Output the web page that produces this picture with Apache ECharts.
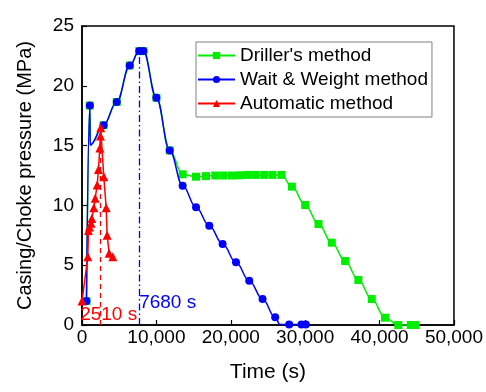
<!DOCTYPE html>
<html>
<head>
<meta charset="utf-8">
<script src="https://cdn.jsdelivr.net/npm/echarts@6/dist/echarts.min.js"></script>
<style>
  html, body { margin: 0; padding: 0; background: #fff; }
  #chart { width: 486px; height: 392px; }
</style>
</head>
<body>
<div id="chart"></div>
<script>
const FONT = "'Liberation Sans', Arial, sans-serif";

// [time (s), pressure (MPa)]
const drillerData = [
  [600, 2.0], [1050, 18.35], [1100, 15.05], [2900, 16.7], [4670, 18.65], [6420, 21.7],
  [7700, 22.9], [8250, 22.9], [10000, 19.0], [11790, 14.6],
  [13530, 12.6], [15330, 12.4], [16670, 12.45], [17920, 12.5], [19000, 12.5], [20160, 12.5],
  [21230, 12.52], [22300, 12.55], [23380, 12.55], [24500, 12.55], [25600, 12.55], [26800, 12.55],
  [28210, 11.57], [30000, 10.03], [31790, 8.44], [33580, 6.88], [35370, 5.35], [37150, 3.76],
  [38950, 2.17], [40740, 0.61], [42520, 0], [44190, 0], [44860, 0]
];
const waitWeightData = [
  [600, 2.0], [1050, 18.35], [1100, 15.05], [2900, 16.7], [4670, 18.65], [6420, 21.7],
  [7700, 22.9], [8250, 22.9], [10000, 19.0], [11790, 14.6], [13530, 11.65], [15330, 9.85],
  [17110, 8.3], [18900, 6.77], [20700, 5.24], [22480, 3.7], [24270, 2.17], [25970, 0.64],
  [26600, 0.05], [27850, 0.05], [29500, 0.05], [30090, 0.05]
];
const automaticData = [
  [0, 2.0], [780, 5.7], [870, 7.9], [1010, 8.2], [1230, 8.5], [1320, 8.9], [1590, 9.8],
  [1770, 10.6], [2040, 11.7], [2210, 13.0], [2400, 14.8], [2480, 15.8], [2510, 16.5],
  [2930, 12.4], [3250, 9.8], [3380, 7.5], [3650, 6.0], [4140, 5.7]
];
// points drawn without a marker (line bends only)
const hiddenMarkerTimes = [1100, 26600];

// vertical reference lines: [time, top pressure]
const autoPeak = [2510, 16.5];
const wwPeak = [7680, 22.9];

const xTicks = [0, 10000, 20000, 30000, 40000, 50000];

function withMarkers(data) {
  return data.map((p) => hiddenMarkerTimes.includes(p[0]) ? { value: p, symbol: 'none' } : p);
}

const chart = echarts.init(document.getElementById('chart'));

const option = {
  animation: false,
  backgroundColor: '#fff',
  textStyle: { fontFamily: FONT },
  grid: {
    left: 82, right: 31, top: 26, bottom: 67,
    show: true, borderColor: '#000', borderWidth: 1.5
  },
  legend: {
    orient: 'vertical',
    left: 196, top: 42,
    padding: [4, 4, 4, 1],
    itemWidth: 37, itemHeight: 9, itemGap: 5,
    borderColor: '#808080', borderWidth: 1,
    backgroundColor: '#fff',
    textStyle: { fontSize: 19, lineHeight: 19, color: '#000', fontFamily: FONT },
    data: ["Driller's method", 'Wait & Weight method', 'Automatic method']
  },
  xAxis: {
    type: 'value',
    min: xTicks[0], max: xTicks[xTicks.length - 1], interval: 10000,
    name: 'Time (s)',
    nameLocation: 'middle', nameGap: 37,
    nameTextStyle: { fontSize: 21, color: '#000', fontFamily: FONT },
    axisLine: { lineStyle: { color: '#000', width: 1.5 } },
    axisTick: { inside: true, length: 5, lineStyle: { color: '#000', width: 1.2 } },
    axisLabel: {
      fontSize: 19, color: '#000', margin: 3, fontFamily: FONT,
      formatter: (v) => v.toLocaleString('en-US')
    },
    splitLine: { show: false }
  },
  yAxis: {
    type: 'value',
    min: 0, max: 25, interval: 5,
    name: 'Casing/Choke pressure (MPa)',
    nameLocation: 'middle', nameGap: 47,
    nameTextStyle: { fontSize: 20, color: '#000', fontFamily: FONT },
    axisLine: { lineStyle: { color: '#000', width: 1.5 } },
    axisTick: { inside: true, length: 5, lineStyle: { color: '#000', width: 1.2 } },
    axisLabel: { fontSize: 19, color: '#000', margin: 8, fontFamily: FONT },
    splitLine: { show: false }
  },
  series: [
    {
      name: "Driller's method",
      type: 'line',
      data: withMarkers(drillerData),
      color: '#00ee00',
      symbol: 'rect', symbolSize: 8,
      smooth: 0.4, smoothMonotone: 'x',
      lineStyle: { width: 1.5 },
      z: 2
    },
    {
      name: 'Wait & Weight method',
      type: 'line',
      data: withMarkers(waitWeightData),
      color: '#0000ff',
      symbol: 'circle', symbolSize: 8,
      smooth: 0.4, smoothMonotone: 'x',
      lineStyle: { width: 1.5 },
      z: 3,
      markLine: {
        silent: true, symbol: 'none', animation: false,
        lineStyle: { color: '#0000ff', type: [7, 3, 1.5, 3], width: 1.3 },
        label: { show: false },
        data: [[{ coord: [wwPeak[0], 0] }, { coord: wwPeak }]]
      },
      markPoint: {
        symbol: 'circle', symbolSize: 0, silent: true,
        label: {
          show: true, color: '#0000ff', fontSize: 19, fontFamily: FONT,
          position: 'right', distance: 0, offset: [0, -22],
          formatter: wwPeak[0] + ' s'
        },
        data: [{ coord: [wwPeak[0], 0] }]
      }
    },
    {
      name: 'Automatic method',
      type: 'line',
      data: automaticData,
      color: '#ff0000',
      symbol: 'triangle', symbolSize: 9,
      lineStyle: { width: 1.5 },
      z: 4,
      markLine: {
        silent: true, symbol: 'none', animation: false,
        lineStyle: { color: '#ff0000', type: [5, 4], width: 1.3 },
        label: { show: false },
        data: [[{ coord: [autoPeak[0], 0] }, { coord: autoPeak }]]
      },
      markPoint: {
        symbol: 'circle', symbolSize: 0, silent: true,
        label: {
          show: true, color: '#ff0000', fontSize: 19, fontFamily: FONT,
          position: 'inside', offset: [8, -10],
          formatter: autoPeak[0] + ' s'
        },
        data: [{ coord: [autoPeak[0], 0] }]
      }
    }
  ]
};

chart.setOption(option);
</script>
</body>
</html>
